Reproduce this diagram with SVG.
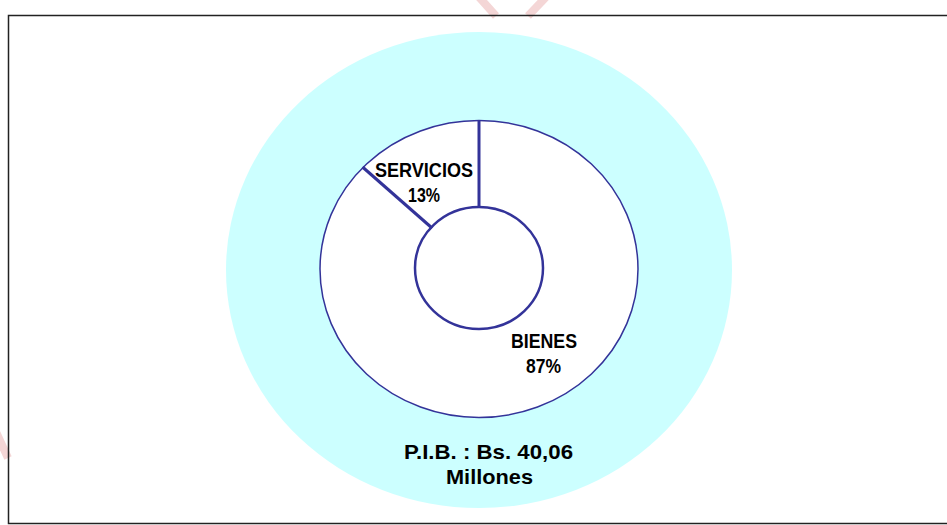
<svg xmlns="http://www.w3.org/2000/svg" width="947" height="525" viewBox="0 0 947 525">
  <style>
    .lbl { font-family: "Liberation Sans", Arial, sans-serif; font-weight: bold; font-size: 21px; fill: #000; text-anchor: middle; }
    .ring { fill: #ffffff; stroke: #333399; }
    .sep { stroke: #333399; stroke-width: 3; fill: none; }
    .wm { stroke: #f4d6d6; stroke-width: 8; fill: none; }
  </style>
  <rect x="0" y="0" width="947" height="525" fill="#ffffff"/>
  <g id="watermark">
    <line class="wm" x1="478" y1="-4" x2="496" y2="16"/>
    <line class="wm" x1="547" y1="-4" x2="528" y2="16"/>
    <line class="wm" x1="-4" y1="432" x2="8" y2="458"/>
  </g>
  <rect id="frame" x="8.5" y="15.5" width="945" height="508" fill="none" stroke="#222" stroke-width="1.5"/>
  <g id="pib-circle">
    <ellipse cx="479" cy="270" rx="253" ry="238" fill="#ccffff"/>
  </g>
  <g id="donut">
    <ellipse class="ring" cx="479" cy="269" rx="159" ry="148.5" stroke-width="1.5"/>
    <ellipse class="ring" cx="479" cy="268" rx="64" ry="61" stroke-width="2.5"/>
  </g>
  <g id="connectors">
    <line class="sep" x1="479" y1="120.5" x2="479" y2="208"/>
    <line class="sep" x1="362.5" y1="167" x2="432" y2="228"/>
  </g>
  <g id="servicios">
    <text class="lbl" x="424" y="177" textLength="98" lengthAdjust="spacingAndGlyphs">SERVICIOS</text>
    <text class="lbl" x="424" y="202" textLength="32" lengthAdjust="spacingAndGlyphs">13%</text>
  </g>
  <g id="bienes">
    <text class="lbl" x="544" y="348" textLength="66" lengthAdjust="spacingAndGlyphs">BIENES</text>
    <text class="lbl" x="543.5" y="373" textLength="35" lengthAdjust="spacingAndGlyphs">87%</text>
  </g>
  <g id="pib">
    <text class="lbl" x="488.5" y="459" textLength="169" lengthAdjust="spacingAndGlyphs">P.I.B. : Bs. 40,06</text>
    <text class="lbl" x="489.5" y="484" textLength="87" lengthAdjust="spacingAndGlyphs">Millones</text>
  </g>
</svg>
